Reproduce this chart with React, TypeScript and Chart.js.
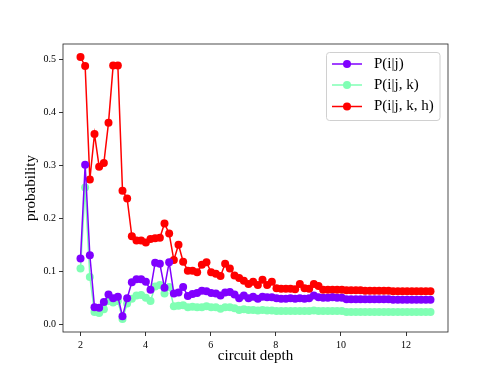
import React, { useEffect, useRef } from "react";
import { Chart, registerables } from "chart.js";

Chart.register(...registerables);

const depths = [
  2.0, 2.143, 2.287, 2.43, 2.573, 2.717, 2.86, 3.003, 3.147, 3.29,
  3.433, 3.577, 3.72, 3.863, 4.007, 4.15, 4.293, 4.437, 4.58, 4.723,
  4.867, 5.01, 5.153, 5.297, 5.44, 5.583, 5.727, 5.87, 6.013, 6.157,
  6.3, 6.443, 6.587, 6.73, 6.873, 7.017, 7.16, 7.303, 7.447, 7.59,
  7.733, 7.877, 8.02, 8.163, 8.307, 8.45, 8.593, 8.737, 8.88, 9.023,
  9.167, 9.31, 9.453, 9.597, 9.74, 9.883, 10.027, 10.17, 10.313, 10.457,
  10.6, 10.743, 10.887, 11.03, 11.173, 11.317, 11.46, 11.603, 11.747, 11.89,
  12.033, 12.177, 12.32, 12.463, 12.607, 12.75,
];

const pIJ = [
  0.125, 0.302, 0.131, 0.033, 0.032, 0.043, 0.057, 0.05, 0.053, 0.016,
  0.05, 0.08, 0.086, 0.086, 0.081, 0.066, 0.117, 0.115, 0.07, 0.118,
  0.059, 0.061, 0.071, 0.054, 0.058, 0.06, 0.064, 0.063, 0.06, 0.059,
  0.055, 0.061, 0.062, 0.057, 0.05, 0.055, 0.05, 0.053, 0.049, 0.053,
  0.052, 0.052, 0.05, 0.049, 0.049, 0.05, 0.049, 0.05, 0.049, 0.05,
  0.055, 0.052, 0.051, 0.051, 0.052, 0.051, 0.051, 0.048, 0.048, 0.048,
  0.048, 0.048, 0.048, 0.048, 0.048, 0.048, 0.048, 0.047, 0.047, 0.047,
  0.047, 0.047, 0.047, 0.047, 0.047, 0.047,
];

const pIJK = [
  0.106, 0.259, 0.09, 0.024, 0.022, 0.029, 0.045, 0.042, 0.045, 0.011,
  0.04, 0.049, 0.055, 0.056, 0.051, 0.045, 0.072, 0.075, 0.059, 0.071,
  0.035, 0.036, 0.037, 0.033, 0.034, 0.033, 0.033, 0.035, 0.033, 0.033,
  0.03, 0.033, 0.033, 0.031, 0.028, 0.029, 0.028, 0.028, 0.027, 0.028,
  0.027, 0.027, 0.026, 0.026, 0.026, 0.026, 0.026, 0.026, 0.026, 0.026,
  0.027, 0.026, 0.026, 0.026, 0.026, 0.026, 0.026, 0.024, 0.024, 0.024,
  0.024, 0.024, 0.024, 0.024, 0.024, 0.024, 0.024, 0.024, 0.024, 0.024,
  0.024, 0.024, 0.024, 0.024, 0.024, 0.024,
];

const pIJKH = [
  0.505, 0.488, 0.274, 0.36, 0.298, 0.305, 0.381, 0.489, 0.489, 0.253,
  0.238, 0.167, 0.159, 0.159, 0.155, 0.162, 0.163, 0.164, 0.191, 0.172,
  0.122, 0.151, 0.119, 0.102, 0.102, 0.099, 0.113, 0.118, 0.099, 0.096,
  0.092, 0.115, 0.106, 0.093, 0.088, 0.083, 0.077, 0.081, 0.075, 0.085,
  0.075, 0.081, 0.069, 0.068, 0.068, 0.068, 0.067, 0.077, 0.069, 0.068,
  0.077, 0.073, 0.066, 0.066, 0.066, 0.066, 0.066, 0.065, 0.065, 0.065,
  0.065, 0.064, 0.064, 0.064, 0.064, 0.064, 0.064, 0.063, 0.063, 0.063,
  0.063, 0.063, 0.063, 0.063, 0.063, 0.063,
];

const seriesLabels = ["P(i|j)", "P(i|j, k)", "P(i|j, k, h)"];
const seriesColors = ["#8000ff", "#80ffb4", "#ff0000"];
const xTicks = [2, 4, 6, 8, 10, 12];
const yTicks = [0.0, 0.1, 0.2, 0.3, 0.4, 0.5];

const FONT = "'Liberation Serif', 'DejaVu Serif', serif";

const framePlugin = {
  id: "frameAndLegend",
  afterDraw(chart: any) {
    const ctx = chart.ctx;
    const a = chart.chartArea;
    ctx.save();
    ctx.strokeStyle = "#222";
    ctx.lineWidth = 0.8;
    ctx.strokeRect(a.left, a.top, a.right - a.left, a.bottom - a.top);

    // legend
    const bx = 326.5, by = 52.5, bw = 113.5, bh = 68;
    ctx.beginPath();
    const r = 3;
    ctx.moveTo(bx + r, by);
    ctx.lineTo(bx + bw - r, by);
    ctx.quadraticCurveTo(bx + bw, by, bx + bw, by + r);
    ctx.lineTo(bx + bw, by + bh - r);
    ctx.quadraticCurveTo(bx + bw, by + bh, bx + bw - r, by + bh);
    ctx.lineTo(bx + r, by + bh);
    ctx.quadraticCurveTo(bx, by + bh, bx, by + bh - r);
    ctx.lineTo(bx, by + r);
    ctx.quadraticCurveTo(bx, by, bx + r, by);
    ctx.closePath();
    ctx.fillStyle = "rgba(255,255,255,0.8)";
    ctx.fill();
    ctx.strokeStyle = "#d0d0d0";
    ctx.lineWidth = 1;
    ctx.stroke();

    const rows = [64, 85, 106.5];
    chart.data.datasets.forEach((ds: any, i: number) => {
      const y = rows[i];
      ctx.strokeStyle = ds.borderColor;
      ctx.lineWidth = 1.5;
      ctx.beginPath();
      ctx.moveTo(332, y);
      ctx.lineTo(362, y);
      ctx.stroke();
      ctx.fillStyle = ds.borderColor;
      ctx.beginPath();
      ctx.arc(347, y, 4, 0, Math.PI * 2);
      ctx.fill();
      ctx.fillStyle = "#000";
      ctx.font = `15px ${FONT}`;
      ctx.textBaseline = "middle";
      ctx.textAlign = "left";
      ctx.fillText(ds.label, 374, y);
    });
    ctx.restore();
  },
};

export default function App() {
  const ref = useRef<HTMLCanvasElement | null>(null);

  useEffect(() => {
    if (!ref.current) return;
    const series = [pIJ, pIJK, pIJKH];
    const chart = new Chart(ref.current, {
      type: "line",
      data: {
        datasets: series.map((vals, i) => ({
          label: seriesLabels[i],
          data: vals.map((v, k) => ({ x: depths[k], y: v })),
          borderColor: seriesColors[i],
          backgroundColor: seriesColors[i],
          pointBackgroundColor: seriesColors[i],
          pointBorderColor: seriesColors[i],
          borderWidth: 1.5,
          pointRadius: 4,
          pointBorderWidth: 0,
          tension: 0,
          fill: false,
        })),
      },
      options: {
        responsive: false,
        animation: false,
        devicePixelRatio: 1,
        layout: { padding: { left: 0, right: 50, top: 44, bottom: 0 } },
        plugins: {
          legend: { display: false },
          tooltip: { enabled: false },
        },
        scales: {
          x: {
            type: "linear",
            min: 1.4625,
            max: 13.2875,
            afterFit: (s: any) => {
              s.height = 42;
            },
            afterBuildTicks: (s: any) => {
              s.ticks = xTicks.map((v) => ({ value: v }));
            },
            grid: {
              drawOnChartArea: false,
              drawTicks: true,
              tickLength: 4,
              tickWidth: 0.8,
              tickColor: "#000",
            },
            border: { display: false },
            ticks: {
              color: "#000",
              padding: 3,
              maxRotation: 0,
              font: { family: FONT, size: 10 },
              callback: (v: any) => String(v),
            },
            title: {
              display: true,
              text: "circuit depth",
              color: "#000",
              font: { family: FONT, size: 15 },
              padding: { top: 0, bottom: 9 },
            },
          },
          y: {
            type: "linear",
            min: -0.0137,
            max: 0.5297,
            afterFit: (s: any) => {
              s.width = 63;
            },
            afterBuildTicks: (s: any) => {
              s.ticks = yTicks.map((v) => ({ value: v }));
            },
            grid: {
              drawOnChartArea: false,
              drawTicks: true,
              tickLength: 4,
              tickWidth: 0.8,
              tickColor: "#000",
            },
            border: { display: false },
            ticks: {
              color: "#000",
              padding: 3,
              font: { family: FONT, size: 10 },
              callback: (v: any) => Number(v).toFixed(1),
            },
            title: {
              display: true,
              text: "probability",
              color: "#000",
              font: { family: FONT, size: 15 },
              padding: { top: 22, bottom: 0 },
            },
          },
        },
      },
      plugins: [framePlugin],
    });
    return () => chart.destroy();
  }, []);

  return (
    <div style={{ position: "absolute", left: 0, top: 0, width: 498, height: 374, background: "#fff" }}>
      <canvas ref={ref} width={498} height={374} style={{ display: "block" }} />
    </div>
  );
}
